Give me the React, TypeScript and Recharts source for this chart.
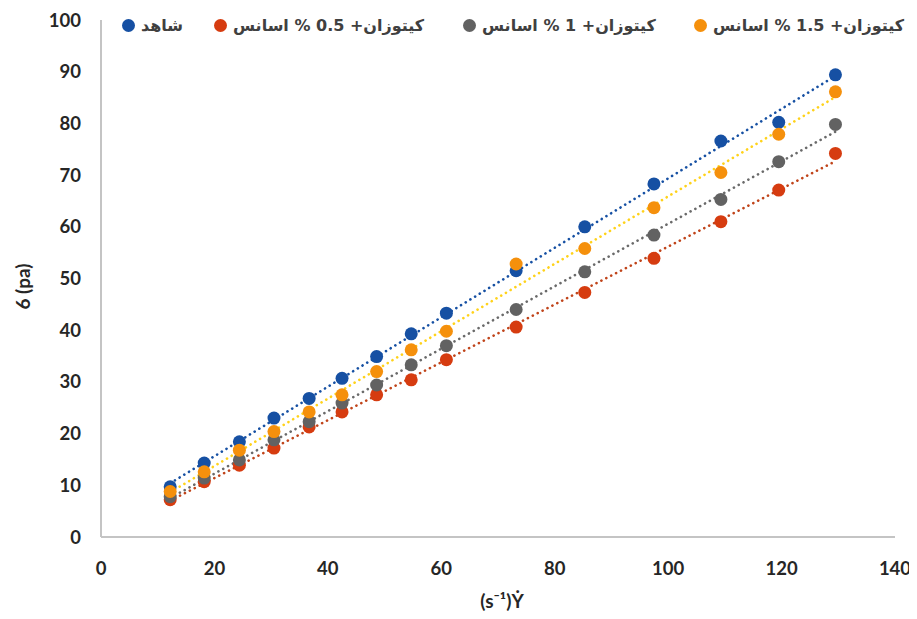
import { ComposedChart, Scatter, Line, XAxis, YAxis } from 'recharts';

// shear rate (s-1)
const shearRate = [12.2, 18.2, 24.4, 30.5, 36.7, 42.5, 48.6, 54.7, 60.9, 73.2, 85.3, 97.5, 109.3, 119.5, 129.5];

// shear stress (pa)
const controlStress = [9.7, 14.3, 18.4, 23.0, 26.8, 30.7, 34.9, 39.3, 43.3, 51.5, 60.0, 68.3, 76.6, 80.2, 89.4];
const chitosan05Stress = [7.2, 10.7, 13.9, 17.2, 21.3, 24.2, 27.5, 30.4, 34.3, 40.6, 47.3, 53.9, 61.0, 67.1, 74.2];
const chitosan1Stress = [7.8, 11.4, 14.9, 18.8, 22.3, 25.9, 29.4, 33.3, 37.0, 44.0, 51.3, 58.4, 65.3, 72.6, 79.8];
const chitosan15Stress = [8.8, 12.6, 16.8, 20.4, 24.2, 27.5, 32.0, 36.2, 39.8, 52.8, 55.8, 63.7, 70.5, 77.9, 86.1];

const xTicks = [0, 20, 40, 60, 80, 100, 120, 140];
const yTicks = [0, 10, 20, 30, 40, 50, 60, 70, 80, 90, 100];

const series = [
  { name: 'شاهد', values: controlStress, color: '#1650a3', trend: '#1650a3' },
  { name: 'کیتوزان+ 0.5 % اسانس', values: chitosan05Stress, color: '#d63c10', trend: '#c0441a' },
  { name: 'کیتوزان+ 1 % اسانس', values: chitosan1Stress, color: '#626262', trend: '#6a6a6a' },
  { name: 'کیتوزان+ 1.5 % اسانس', values: chitosan15Stress, color: '#f5900c', trend: '#ffd21a' },
];

const legendLeft = [114, 206, 455, 686];

const toPoints = (ys: number[]) => shearRate.map((x, i) => ({ x, y: ys[i] }));

// linear trendline (least squares), like excel
const trendline = (ys: number[]) => {
  const n = shearRate.length;
  let sx = 0, sy = 0, sxx = 0, sxy = 0;
  shearRate.forEach((x, i) => {
    sx += x; sy += ys[i]; sxx += x * x; sxy += x * ys[i];
  });
  const slope = (n * sxy - sx * sy) / (n * sxx - sx * sx);
  const icpt = (sy - slope * sx) / n;
  const x0 = Math.min(...shearRate);
  const x1 = Math.max(...shearRate);
  return [{ x: x0, y: icpt + slope * x0 }, { x: x1, y: icpt + slope * x1 }];
};

const tickStyle = { fill: '#262626', fontSize: 18.5, fontWeight: 700, fontFamily: 'Lato, sans-serif' };

const YLabel = ({ viewBox }: any) => {
  const cx = 14;
  const cy = viewBox.y + viewBox.height / 2 + 8;
  return (
    <text x={cx} y={cy} transform={`rotate(-90 ${cx} ${cy})`} textAnchor="middle" dominantBaseline="central"
      style={{ fill: '#262626', fontSize: 19, fontWeight: 700, fontFamily: 'Lato, sans-serif' }}>
      6 (pa)
    </text>
  );
};

const XLabel = ({ viewBox }: any) => (
  <text x={viewBox.x + viewBox.width / 2 + 4} y={600} textAnchor="middle"
    style={{ fill: '#262626', fontSize: 19, fontWeight: 700, fontFamily: 'Lato, sans-serif' }}>
    (s⁻¹)Ẏ
  </text>
);

export default function App() {
  return (
    <div style={{ position: 'relative', width: 909, height: 611, background: '#fff' }}>
      <ComposedChart width={909} height={611} margin={{ top: 12, right: 22, bottom: 0, left: 0 }}>
        <XAxis
          type="number"
          dataKey="x"
          domain={[0, 140]}
          ticks={xTicks}
          height={82}
          tickLine={false}
          tickMargin={19}
          axisLine={{ stroke: '#c4c4c4', strokeWidth: 2 }}
          tick={tickStyle}
          label={<XLabel />}
        />
        <YAxis
          type="number"
          dataKey="y"
          domain={[0, 100]}
          ticks={yTicks}
          width={93}
          tickLine={false}
          tickMargin={14}
          axisLine={{ stroke: '#c4c4c4', strokeWidth: 2 }}
          tick={tickStyle}
          label={<YLabel />}
        />
        {series.map((s) => (
          <Line
            key={'t' + s.name}
            data={trendline(s.values)}
            dataKey="y"
            stroke={s.trend}
            strokeWidth={2.6}
            strokeDasharray="0.1 5.4"
            strokeLinecap="round"
            dot={false}
            activeDot={false}
            isAnimationActive={false}
          />
        ))}
        {series.map((s) => (
          <Scatter
            key={s.name}
            data={toPoints(s.values)}
            dataKey="y"
            fill={s.color}
            isAnimationActive={false}
            shape={(p: any) => <circle cx={p.cx} cy={p.cy} r={6.5} fill={s.color} />}
          />
        ))}
      </ComposedChart>
      {series.map((s, i) => (
        <div key={s.name} style={{
          position: 'absolute', left: legendLeft[i], top: 8, display: 'flex', alignItems: 'center',
          fontFamily: "'DejaVu Sans', sans-serif", fontWeight: 700, fontSize: 16, color: '#404040', whiteSpace: 'nowrap'
        }}>
          <span style={{ width: 13, height: 13, borderRadius: '50%', background: s.color, marginRight: 6, display: 'inline-block' }} />
          <span>{s.name}</span>
        </div>
      ))}
    </div>
  );
}
